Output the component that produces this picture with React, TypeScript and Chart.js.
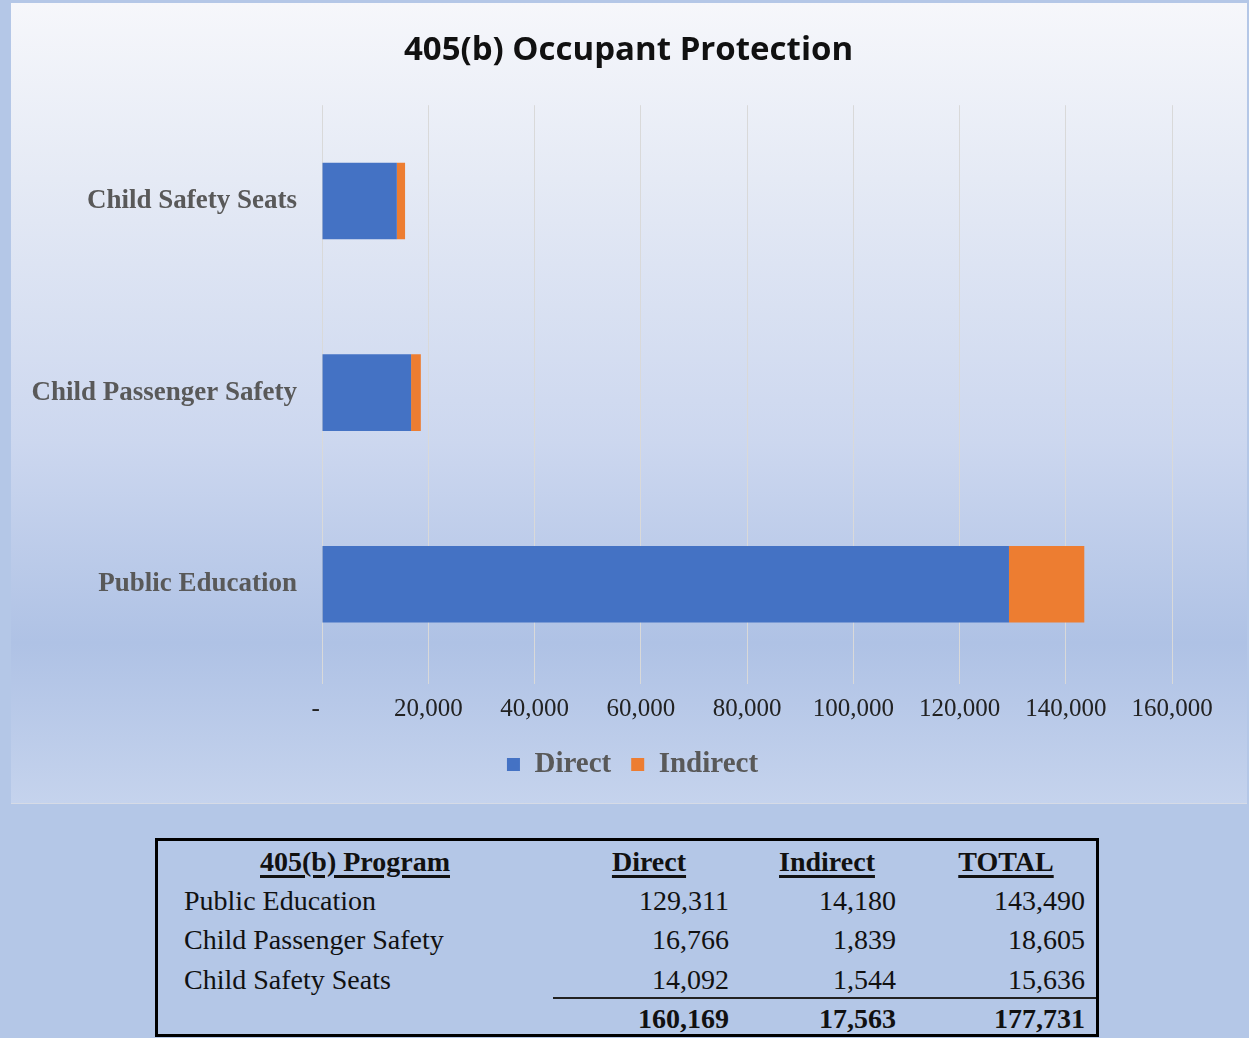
import React, { useEffect, useRef } from 'react';
import { Chart, registerables } from 'chart.js';

Chart.register(...registerables);

const chartTitle = '405(b) Occupant Protection';
const programs = ['Public Education', 'Child Passenger Safety', 'Child Safety Seats'];
const seriesNames = ['Direct', 'Indirect'];
const directValues = [129311, 16766, 14092];
const indirectValues = [14180, 1839, 1544];
const totalValues = [143490, 18605, 15636];
const columnTotals = [160169, 17563, 177731];
const tableHeaders = ['405(b) Program', 'Direct', 'Indirect', 'TOTAL'];
const xTickValues = [0, 20000, 40000, 60000, 80000, 100000, 120000, 140000, 160000];

const seriesColors = ['#4472c4', '#ed7d31'];
const serif = "'Liberation Serif', 'Times New Roman', serif";

const fmt = (v: number) => v.toLocaleString('en-US');

// Centre the title and legend over the whole panel rather than over the padded layout area
const shiftBlocks = {
  id: 'shiftBlocks',
  afterLayout(chart: any) {
    const t = chart.titleBlock;
    if (t) {
      t.left += 37;
      t.right += 37;
    }
    const l = chart.legend;
    if (l) {
      l.left += 41;
      l.right += 41;
    }
  },
};

function BarChart() {
  const ref = useRef<HTMLCanvasElement | null>(null);
  useEffect(() => {
    if (!ref.current) return;
    const chart = new Chart(ref.current, {
      type: 'bar',
      data: {
        labels: programs,
        datasets: [
          {
            label: seriesNames[0],
            data: directValues,
            backgroundColor: seriesColors[0],
            borderWidth: 0,
            barPercentage: 0.4,
            categoryPercentage: 1,
          },
          {
            label: seriesNames[1],
            data: indirectValues,
            backgroundColor: seriesColors[1],
            borderWidth: 0,
            barPercentage: 0.4,
            categoryPercentage: 1,
          },
        ],
      },
      plugins: [shiftBlocks],
      options: {
        indexAxis: 'y',
        responsive: false,
        animation: false,
        layout: { padding: { left: 0, right: 75, top: 0, bottom: 14 } },
        plugins: {
          title: {
            display: true,
            text: chartTitle,
            font: { family: "'Open Sans', sans-serif", size: 33, weight: 'bold' },
            color: '#111111',
            padding: { top: 27.6, bottom: 35 },
          },
          legend: {
            position: 'bottom',
            labels: {
              font: { family: serif, size: 29, weight: 'bold' },
              color: '#595959',
              boxWidth: 13,
              boxHeight: 13,
              padding: 20,
            },
          },
          tooltip: { enabled: false },
        },
        scales: {
          x: {
            stacked: true,
            min: 0,
            max: 160000,
            afterBuildTicks: (scale: any) => {
              scale.ticks = xTickValues.map((v) => ({ value: v }));
            },
            afterFit: (scale: any) => {
              scale.height = 50;
            },
            ticks: {
              autoSkip: false,
              maxRotation: 0,
              padding: 10,
              color: '#222222',
              font: { family: serif, size: 25 },
              callback: (v: any) => (Number(v) === 0 ? '-  ' : fmt(Number(v))),
            },
            grid: { color: '#d9d9d9', drawTicks: true, tickLength: 4, lineWidth: 1 },
            border: { display: false },
          },
          y: {
            stacked: true,
            reverse: true,
            afterFit: (scale: any) => {
              scale.width = 311;
            },
            ticks: {
              padding: 25,
              color: '#595959',
              font: { family: serif, size: 27, weight: 'bold' },
            },
            grid: { display: false, drawTicks: false },
            border: { display: false },
          },
        },
      },
    });
    return () => chart.destroy();
  }, []);
  return <canvas ref={ref} width={1236} height={800} style={{ display: 'block', width: 1236, height: 800 }} />;
}

const cellBase: React.CSSProperties = {
  position: 'absolute',
  height: 40,
  lineHeight: '40px',
  whiteSpace: 'nowrap',
};

function Table() {
  const rowCenters = [60, 99, 139];
  const headerCenter = 21;
  const totalCenter = 178;
  const headerStyle: React.CSSProperties = {
    ...cellBase,
    fontWeight: 'bold',
    textAlign: 'center',
    textDecoration: 'underline',
    textDecorationThickness: '3px',
    textUnderlineOffset: '4px',
    width: 300,
  };
  const headerCenters = [197, 491, 669, 848];
  const rightEdges = [571, 738, 927];
  return (
    <div
      style={{
        position: 'absolute',
        left: 155,
        top: 838,
        width: 944,
        height: 199,
        border: '3px solid #000',
        boxSizing: 'border-box',
        fontFamily: serif,
        fontSize: 28,
        color: '#111',
      }}
    >
      {tableHeaders.map((h, i) => (
        <div key={h} style={{ ...headerStyle, left: headerCenters[i] - 150, top: headerCenter - 20 }}>
          {h}
        </div>
      ))}
      {programs.map((p, r) => {
        const vals = [directValues[r], indirectValues[r], totalValues[r]];
        return (
          <React.Fragment key={p}>
            <div style={{ ...cellBase, left: 26, top: rowCenters[r] - 20 }}>{p}</div>
            {vals.map((v, c) => (
              <div
                key={c}
                style={{ ...cellBase, left: rightEdges[c] - 200, width: 200, textAlign: 'right', top: rowCenters[r] - 20 }}
              >
                {fmt(v)}
              </div>
            ))}
          </React.Fragment>
        );
      })}
      <div style={{ position: 'absolute', left: 395, top: 156, width: 543, height: 2, background: '#222' }} />
      {columnTotals.map((v, c) => (
        <div
          key={c}
          style={{
            ...cellBase,
            left: rightEdges[c] - 200,
            width: 200,
            textAlign: 'right',
            fontWeight: 'bold',
            top: totalCenter - 20,
          }}
        >
          {fmt(v)}
        </div>
      ))}
    </div>
  );
}

export default function App() {
  return (
    <div
      style={{
        position: 'absolute',
        left: 0,
        top: 0,
        width: 1249,
        height: 1038,
        background: '#b4c7e7',
        overflow: 'hidden',
      }}
    >
      <div
        style={{
          position: 'absolute',
          left: 11,
          top: 3,
          width: 1236,
          height: 800,
          background: 'linear-gradient(to bottom, #f6f7fb 0%, #e5eaf5 22%, #ccd7ef 55%, #afc2e5 80%, #c5d3ed 100%)',
          borderBottom: '1px solid #d6dbe6',
        }}
      >
        <BarChart />
      </div>
      <Table />
    </div>
  );
}
